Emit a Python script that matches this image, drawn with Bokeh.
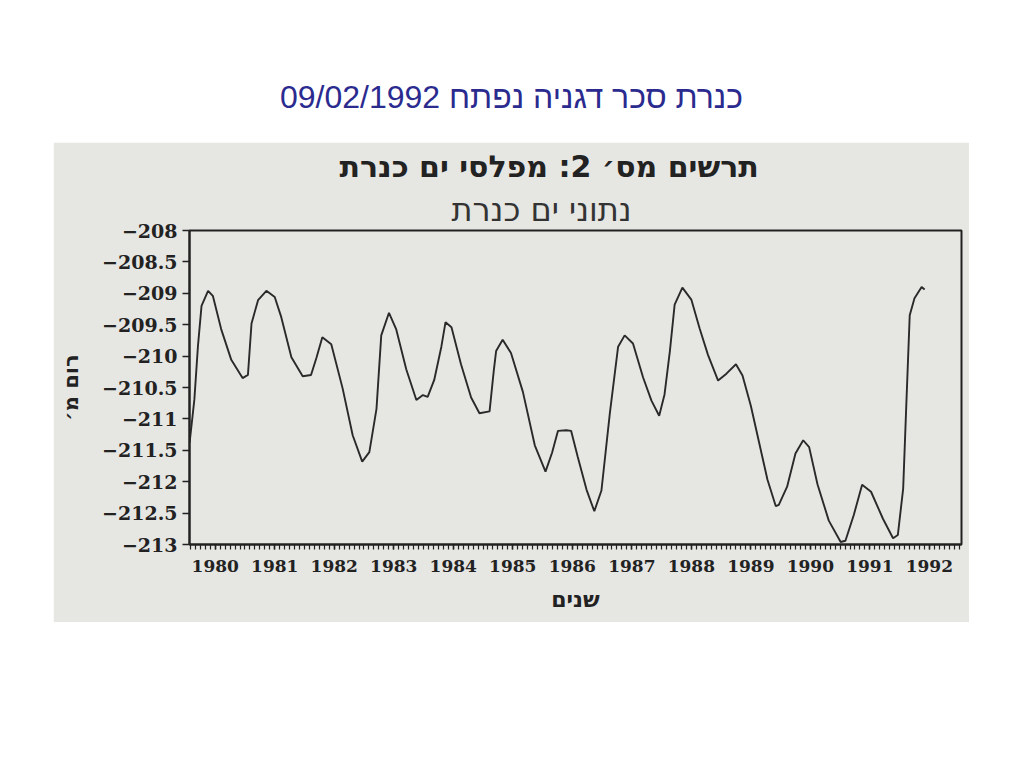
from bokeh.plotting import figure
from bokeh.models import Range1d, FixedTicker, Title, Spacer
from bokeh.layouts import column, row
from bokeh.core.properties import value
from bokeh.embed import file_html
from bokeh.resources import INLINE

# ---- texts ----
slide_title = "כנרת סכר דגניה נפתח 09/02/1992"
chart_title = "תרשים מס׳ 2: מפלסי ים כנרת"
chart_subtitle = "נתוני ים כנרת"
x_label = "שנים"
y_label = "רום מ׳"

# ---- axes ----
years = list(range(1980, 1993))
y_ticks = [-208, -208.5, -209, -209.5, -210, -210.5, -211, -211.5, -212, -212.5, -213]
y_tick_labels = ["−208", "−208.5", "−209", "−209.5", "−210", "−210.5",
                 "−211", "−211.5", "−212", "−212.5", "−213"]

# ---- data: Lake Kinneret level (m) by decimal year ----
dates = [1980.07, 1980.15, 1980.21, 1980.27, 1980.38, 1980.46, 1980.60, 1980.77, 1980.96, 1981.05,
         1981.11, 1981.22, 1981.36, 1981.50, 1981.61, 1981.78, 1981.97, 1982.11, 1982.20, 1982.30,
         1982.45, 1982.64, 1982.81, 1982.97, 1983.09, 1983.21, 1983.29, 1983.42, 1983.54, 1983.71,
         1983.88, 1983.99, 1984.07, 1984.18, 1984.30, 1984.37, 1984.47, 1984.63, 1984.80, 1984.94,
         1985.11, 1985.18, 1985.22, 1985.33, 1985.47, 1985.67, 1985.87, 1986.05, 1986.16, 1986.26,
         1986.40, 1986.48, 1986.59, 1986.74, 1986.87, 1986.99, 1987.13, 1987.27, 1987.38, 1987.52,
         1987.69, 1987.83, 1987.96, 1988.05, 1988.14, 1988.22, 1988.35, 1988.50, 1988.64, 1988.78,
         1988.95, 1989.09, 1989.25, 1989.36, 1989.50, 1989.64, 1989.78, 1989.92, 1989.97, 1990.11,
         1990.25, 1990.38, 1990.48, 1990.62, 1990.81, 1991.01, 1991.09, 1991.23, 1991.37, 1991.52,
         1991.72, 1991.89, 1991.97, 1992.06, 1992.11, 1992.17, 1992.25, 1992.37, 1992.42]
levels = [-211.38, -210.69, -209.84, -209.20, -208.96, -209.04, -209.57, -210.06, -210.35, -210.30,
          -209.48, -209.11, -208.96, -209.06, -209.38, -210.02, -210.32, -210.30, -210.03, -209.70,
          -209.81, -210.51, -211.26, -211.68, -211.53, -210.84, -209.67, -209.31, -209.57, -210.21,
          -210.70, -210.62, -210.65, -210.38, -209.85, -209.46, -209.54, -210.13, -210.66, -210.91,
          -210.88, -210.24, -209.92, -209.74, -209.95, -210.57, -211.42, -211.84, -211.54, -211.19,
          -211.18, -211.19, -211.60, -212.13, -212.47, -212.14, -210.92, -209.85, -209.67, -209.80,
          -210.34, -210.71, -210.95, -210.61, -209.92, -209.18, -208.91, -209.10, -209.56, -209.98,
          -210.39, -210.28, -210.13, -210.31, -210.79, -211.38, -211.97, -212.39, -212.37, -212.08,
          -211.55, -211.34, -211.45, -212.04, -212.62, -212.96, -212.94, -212.53, -212.05, -212.16,
          -212.59, -212.90, -212.85, -212.11, -210.84, -209.35, -209.08, -208.90, -208.94]

BG = "#e6e6e3"
INK = "#222222"

# ---- slide heading ----
head = figure(width=1022, height=142, x_range=Range1d(0, 1), y_range=Range1d(0, 1),
              output_backend="svg", toolbar_location=None, min_border=0,
              x_axis_location=None, y_axis_location=None)
head.grid.visible = False
head.outline_line_color = None
head.text(x=[0.5], y=[46 / 142], text=[slide_title], text_align="center",
          text_baseline="middle", text_font=value("Liberation Sans"),
          text_font_size="32px", text_color="#2B2B8F")

# ---- chart ----
p = figure(width=916, height=480, x_range=Range1d(1980.068, 1993.04), y_range=Range1d(-213, -208),
           output_backend="svg", toolbar_location=None,
           min_border_left=136, min_border_right=8, min_border_top=88, min_border_bottom=78,
           background_fill_color=BG, border_fill_color=BG)
p.grid.visible = False
p.outline_line_color = INK
p.outline_line_width = 2

p.title.text = chart_title
p.title.align = "left"
p.title.offset = 150
p.title.text_font = "DejaVu Sans"
p.title.text_font_style = "bold"
p.title.text_font_size = "30px"
p.title.text_color = INK
p.title.standoff = 6
sub = Title(text=chart_subtitle, align="left", offset=262, text_font="DejaVu Sans",
            text_font_style="normal", text_font_size="32px", text_color="#333333",
            standoff=4)
p.add_layout(sub, "above")

p.line(dates, levels, line_color="#2a2a2a", line_width=1.9)

xa = p.xaxis[0]
xa.ticker = FixedTicker(ticks=[y + 0.5 for y in years],
                        minor_ticks=[y + m / 12 for y in range(1980, 1994) for m in range(12)])
xa.major_label_overrides = {y + 0.5: str(y) for y in years}
xa.major_tick_out = 5
xa.major_tick_in = 0
xa.minor_tick_out = 5
xa.minor_tick_in = 0
xa.major_label_standoff = 10
xa.axis_label = x_label
xa.axis_label_standoff = 12
xa.axis_label_text_font = "DejaVu Sans"
xa.axis_label_text_font_style = "bold"
xa.axis_label_text_font_size = "22px"
xa.major_label_text_font_size = "17px"

ya = p.yaxis[0]
ya.ticker = FixedTicker(ticks=y_ticks, minor_ticks=[])
ya.major_label_overrides = {t: l for t, l in zip(y_ticks, y_tick_labels)}
ya.major_tick_out = 7
ya.major_tick_in = 0
ya.minor_tick_out = 0
ya.minor_tick_in = 0
ya.major_label_standoff = 5
ya.axis_label = y_label
ya.axis_label_standoff = 16
ya.axis_label_text_font = "DejaVu Sans"
ya.axis_label_text_font_style = "bold"
ya.axis_label_text_font_size = "21px"
ya.major_label_text_font_size = "19px"

for ax in (xa, ya):
    ax.axis_line_color = INK
    ax.axis_line_width = 2
    ax.major_tick_line_color = INK
    ax.minor_tick_line_color = INK
    ax.major_tick_line_width = 1.5
    ax.minor_tick_line_width = 1.2
    ax.major_label_text_font = "DejaVu Serif"
    ax.major_label_text_font_style = "bold"
    ax.major_label_text_color = INK
    ax.axis_label_text_color = INK

layout = column(head, row(Spacer(width=53, height=480), p))

open("out.html", "w").write(file_html(layout, INLINE))
